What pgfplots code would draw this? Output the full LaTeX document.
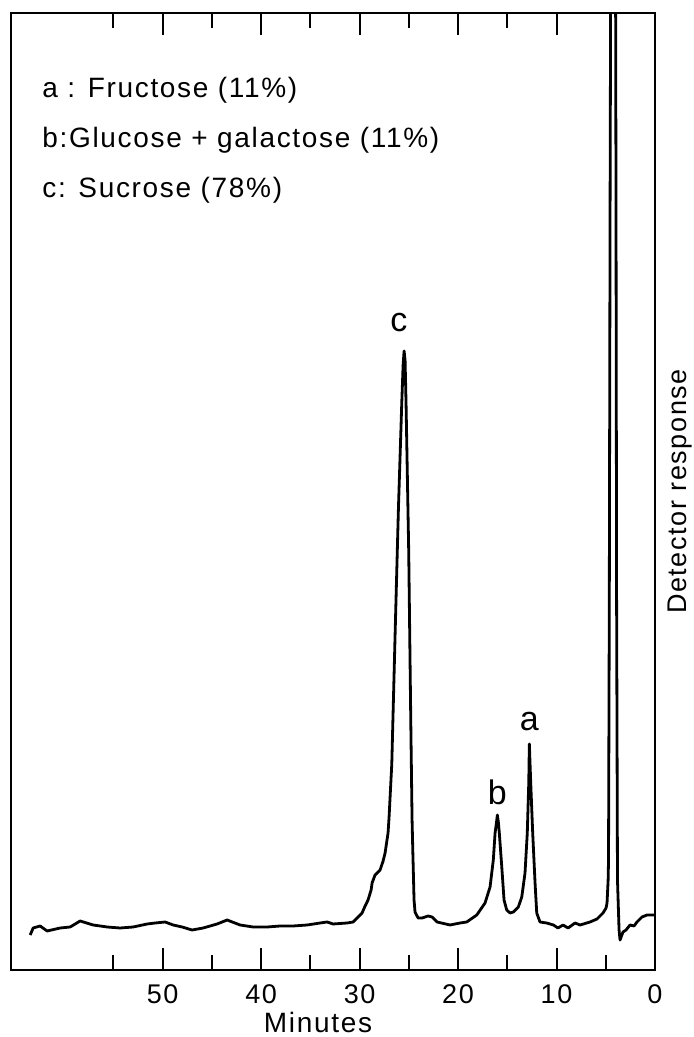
\documentclass[border=0pt]{standalone}
\usepackage{fontspec}
\setmainfont{Liberation Sans}[LetterSpace=6]
\usepackage{pgfplots}
\pgfplotsset{compat=1.18}
\usepackage{pgfplotstable}
\pgfplotstableread{
x y
63.45 35
63.15 42
62.44 44
61.73 39
60.41 42
59.39 43
58.38 49
57.06 45
55.63 43
54.31 42
53.00 43
51.57 46
50.76 47
49.75 48
48.93 45
48.02 43
47.01 40
45.89 42
44.47 46
43.45 50
42.13 45
40.81 43
39.39 43
38.07 44
36.75 44
35.33 45
34.01 47
33.30 48
32.69 46
31.27 47
30.66 48
30.25 52
29.75 57
29.44 64
29.14 70
28.83 80
28.73 87
28.43 95
27.92 100
27.61 109
27.41 117
27.11 137
27.01 152
26.73 206
26.40 333
26.06 460
25.72 566
25.58 605
25.48 619
25.38 610
25.28 566
25.01 418
24.80 248
24.67 150
24.60 121
24.47 70
24.37 58
24.06 52
23.65 52
23.05 54
22.64 53
22.13 48
20.81 45
19.80 47
19.12 48
18.10 55
17.26 67
16.75 83
16.42 110
16.24 137
16.09 148
16.01 155
15.91 148
15.81 137
15.56 103
15.33 70
15.06 60
14.72 57
14.39 58
13.88 63
13.53 73
13.20 97
12.97 137
12.82 187
12.76 226
12.62 187
12.42 137
12.18 87
12.01 57
11.68 48
11.00 47
10.32 45
9.85 42
9.34 45
8.83 42
8.12 47
7.61 45
6.60 48
5.89 51
5.28 57
4.97 62
4.87 67
4.76 90
4.72 110
4.64 370
4.56 770
4.48 1070
4.02 1070
3.96 770
3.90 370
3.81 90
3.65 40
3.55 30
3.25 38
2.94 40
2.54 45
2.13 44
1.83 48
1.32 53
0.81 55
0.00 55
}\chrom
\begin{document}
\begin{tikzpicture}
\useasboundingbox (-5.5pt,-33.5pt) rectangle (341.5pt,485pt);
\begin{axis}[
  at={(0,0)}, anchor=south west,
  scale only axis, width=322pt, height=478.5pt,
  x dir=reverse,
  xmin=0, xmax=65.4, ymin=0, ymax=957,
  axis line style={line width=1pt},
  xtick={10,20,30,40,50},
  minor xtick={15,25,35,45,55},
  extra x ticks={0},
  extra x tick style={major tick length=0pt},
  ytick=\empty,
  tick align=inside,
  major tick length=11pt,
  minor tick length=7.5pt,
  every tick/.style={black, line width=1pt},
  /pgf/number format/assume math mode=true,
  tick label style={font=\fontsize{13.5}{15}\selectfont},
  xticklabel style={yshift=-4pt},
  xlabel={Minutes},
  xlabel style={font=\fontsize{14}{15}\selectfont, yshift=3pt, xshift=-7.5pt},
  clip=true,
]
\addplot[black, line width=1.4pt, line join=round] table[x=x,y=y] {\chrom};
\draw[black, line width=1pt] (axis cs:5,0) -- ++(0,7.5pt);
\node[font=\fontsize{14}{16}\selectfont, anchor=west, inner sep=0pt] at (rel axis cs:0,1) [xshift=15.5pt, yshift=-38.5pt] {a : Fructose (11\%)};
\node[font=\fontsize{14}{16}\selectfont, anchor=west, inner sep=0pt] at (rel axis cs:0,1) [xshift=15.5pt, yshift=-63.5pt] {b:Glucose + galactose (11\%)};
\node[font=\fontsize{14}{16}\selectfont, anchor=west, inner sep=0pt] at (rel axis cs:0,1) [xshift=15.5pt, yshift=-88.5pt] {c: Sucrose (78\%)};
\node[font=\fontsize{17}{20}\selectfont] at (axis cs:26.0,647) {c};
\node[font=\fontsize{17}{20}\selectfont] at (axis cs:16.0,178) {b};
\node[font=\fontsize{17}{20}\selectfont] at (axis cs:12.76,248) {a};
\end{axis}
\node[font=\fontsize{13.5}{15}\selectfont, rotate=90] at ([xshift=12.5pt]current axis.east) {Detector response};
\end{tikzpicture}
\end{document}
